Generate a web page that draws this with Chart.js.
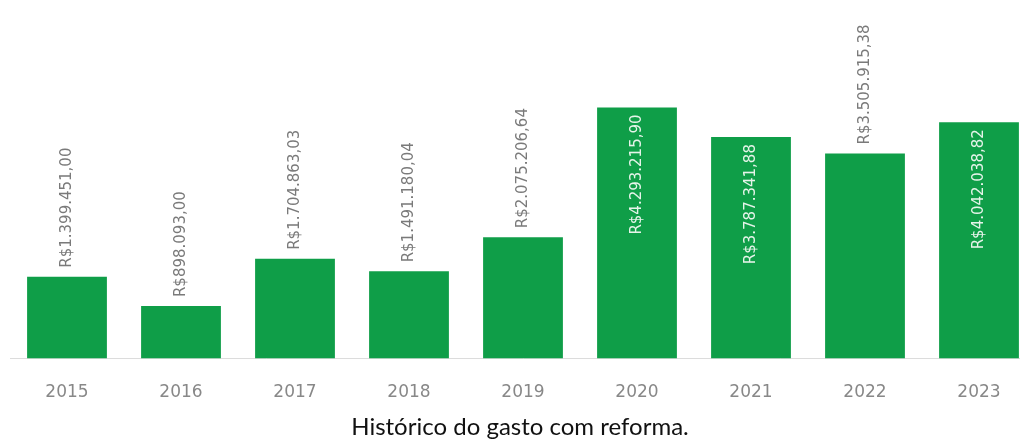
<!DOCTYPE html>
<html lang="pt-BR">
<head>
<meta charset="utf-8">
<script src="https://cdn.jsdelivr.net/npm/chart.js@4"></script>
<style>
  html, body { margin: 0; padding: 0; background: #fff; overflow: hidden; }
  #wrap { width: 1040px; height: 427px; position: relative; }
  #caption {
    position: absolute; top: 412px; left: 0;
    width: 1040px; text-align: center; font-family: Lato, sans-serif;
    font-size: 24px; line-height: 28px; color: #111;
  }
</style>
</head>
<body>
<div id="wrap"><canvas id="gastoChart"></canvas></div>
<div id="caption">Histórico do gasto com reforma.</div>
<script>
const anos = ["2015", "2016", "2017", "2018", "2019", "2020", "2021", "2022", "2023"];
const gastos = [1399451.00, 898093.00, 1704863.03, 1491180.04, 2075206.64, 4293215.90, 3787341.88, 3505915.38, 4042038.82];
const rotulos = ["R$1.399.451,00", "R$898.093,00", "R$1.704.863,03", "R$1.491.180,04", "R$2.075.206,64",
                 "R$4.293.215,90", "R$3.787.341,88", "R$3.505.915,38", "R$4.042.038,82"];

// draws the value labels turned 90 degrees (no datalabels plugin available)
const valorLabels = {
    id: 'valorLabels',
    afterDatasetsDraw(chart) {
        const ctx = chart.ctx;
        const meta = chart.getDatasetMeta(0);
        ctx.save();
        ctx.font = '15px "DejaVu Sans"';
        meta.data.forEach((bar, i) => {
            let dentro = gastos[i] > 3700000; // tall bars get the label inside
            ctx.save();
            ctx.translate(bar.x, bar.y);
            ctx.rotate(-Math.PI / 2);
            ctx.textBaseline = 'middle';
            if (dentro) {
                ctx.fillStyle = '#e6f4ea';
                ctx.textAlign = 'right';
                ctx.fillText(rotulos[i], -7, 0);
            } else {
                ctx.fillStyle = '#7a7a7a';
                ctx.textAlign = 'left';
                ctx.fillText(rotulos[i], 9, 0);
            }
            ctx.restore();
        });
        ctx.restore();
    }
};

let ctx = document.getElementById("gastoChart").getContext("2d");
window.myChart = new Chart(ctx, {
    type: "bar",
    data: {
        labels: anos,
        datasets: [
            { label: "Gasto", data: gastos, backgroundColor: "#0f9e48", barPercentage: 0.7, categoryPercentage: 1 }
        ]
    },
    options: {
        responsive: true,
        maintainAspectRatio: false,
        animation: false,
        layout: { padding: { left: 10, right: 4, top: 0, bottom: 0 } },
        plugins: {
            legend: { display: false },
            tooltip: { enabled: false }
        },
        scales: {
            y: { display: false, min: 0, max: 6130000 },
            x: {
                grid: { display: false, drawTicks: false },
                border: { display: true, color: '#dcdcdc', width: 1 },
                ticks: {
                    color: '#888',
                    padding: 24,
                    font: { family: '"DejaVu Sans"', size: 17 }
                }
            }
        }
    },
    plugins: [valorLabels]
});
</script>
</body>
</html>
